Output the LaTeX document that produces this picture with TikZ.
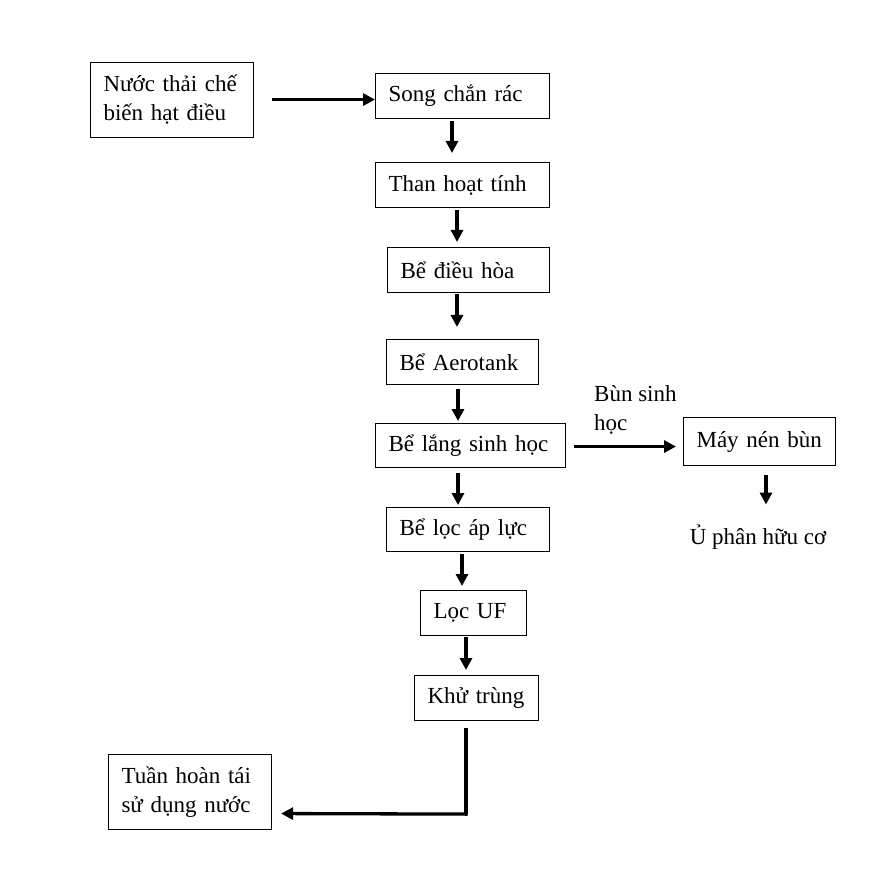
\documentclass[tikz,border=0pt]{standalone}
\usepackage{fontspec}
\setmainfont{Liberation Serif}
\usetikzlibrary{arrows.meta,calc}
\begin{document}
\begin{tikzpicture}[x=1pt,y=-1pt,
  every node/.style={font=\fontsize{23}{29}\selectfont},
  box/.style={draw,line width=1.1pt,anchor=north west,inner xsep=13pt,inner ysep=0pt,align=left},
  arr/.style={line width=3.3pt,-{Triangle[length=12pt,width=12pt]}},
  lbl/.style={inner sep=0pt,align=left}]
\useasboundingbox (0,0) rectangle (880,874);
\newcommand{\bx}[6]{\node[box,minimum width=#4-#2,minimum height=#5-#3,text width=#4-#2-26] (#1) at (#2,#3) {#6};}
\bx{n1}{90}{62}{253}{137}{Nước thải chế\\biến hạt điều}
\bx{song}{375}{73}{549}{118}{Song chắn rác}
\bx{than}{375}{162}{549}{207}{Than hoạt tính}
\bx{dieuhoa}{387}{247}{549}{292}{Bể điều hòa}
\bx{aero}{386}{339}{538}{384}{Bể Aerotank}
\bx{lang}{375}{423}{565}{467}{Bể lắng sinh học}
\bx{may}{683}{417}{835}{465}{Máy nén bùn}
\bx{loc}{386}{507}{549}{551}{Bể lọc áp lực}
\bx{uf}{420}{590}{526}{635}{Lọc UF}
\bx{khu}{414}{675}{538}{720}{Khử trùng}
\bx{tuan}{108}{754}{271}{829}{Tuần hoàn tái\\sử dụng nước}
\node[lbl,anchor=west] (bun) at (594,410) {Bùn sinh\\học};
\node[lbl] (u) at (758,537) {Ủ phân hữu cơ};
\coordinate (in) at ($(n1.east)+(18,-0.5)$);
\draw[arr] (in) -- (in -| song.west);
\draw[arr] ($(song.south west)+(77,2)$) -- ($(than.north west)+(77,-9)$);
\draw[arr] ($(than.south west)+(82,2)$) -- ($(dieuhoa.north west)+(70,-5)$);
\draw[arr] ($(dieuhoa.south west)+(70,1)$) -- ($(aero.north west)+(71,-12)$);
\draw[arr] ($(aero.south west)+(72,4)$) -- ($(lang.north west)+(83,-2)$);
\draw[arr] ($(lang.south west)+(83,5)$) -- ($(loc.north west)+(72,-2)$);
\draw[arr] ($(loc.south west)+(76,2)$) -- ($(uf.north west)+(42,-4)$);
\draw[arr] ($(uf.south west)+(46,1)$) -- ($(khu.north west)+(52,-5)$);
\coordinate (bs) at ($(lang.east)+(8,1)$);
\draw[arr] (bs) -- ($(may.west |- bs)+(-7,0)$);
\draw[arr] ($(may.south west)+(83,9)$) -- ($(u.north)+(8,-20)$);
\draw[line width=3.3pt] ($(khu.south west)+(52,7)$) -- ($(khu.south west)+(52,93)$) coordinate (corner);
\draw[arr] ($(corner)+(1.65,0)$) -- ($(tuan.east)+(9,21.5)$);
\end{tikzpicture}
\end{document}
